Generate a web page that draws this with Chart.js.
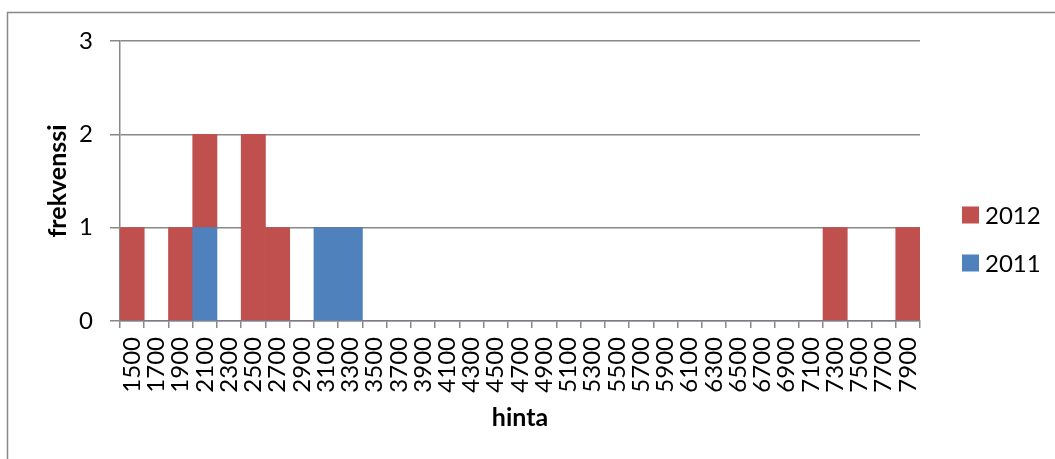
<!DOCTYPE html>
<html>
<head>
<meta charset="utf-8">
<script src="https://cdn.jsdelivr.net/npm/chart.js@4.4.1/dist/chart.umd.min.js"></script>
<style>
  html, body { margin: 0; padding: 0; background: #ffffff; }
  #wrap { position: relative; width: 1055px; height: 459px; }
</style>
</head>
<body>
<div id="wrap"><canvas id="chart" width="1055" height="459"></canvas></div>
<script>
// price classes (hinta) on the x axis
const categories = [
  '1500', '1700', '1900', '2100', '2300', '2500', '2700', '2900', '3100', '3300', '3500',
  '3700', '3900', '4100', '4300', '4500', '4700', '4900', '5100', '5300', '5500', '5700',
  '5900', '6100', '6300', '6500', '6700', '6900', '7100', '7300', '7500', '7700', '7900'
];

// frequencies per price class
const values2011 = [
  0, 0, 0, 1, 0, 0, 0, 0, 1, 1, 0,
  0, 0, 0, 0, 0, 0, 0, 0, 0, 0, 0,
  0, 0, 0, 0, 0, 0, 0, 0, 0, 0, 0
];
const values2012 = [
  1, 0, 1, 1, 0, 2, 1, 0, 0, 0, 0,
  0, 0, 0, 0, 0, 0, 0, 0, 0, 0, 0,
  0, 0, 0, 0, 0, 0, 0, 1, 0, 0, 1
];

const yTicks = [0, 1, 2, 3];
const seriesNames = ['2011', '2012'];
const seriesColors = ['#4F81BD', '#C0504D'];

const FONT = 'Lato, "Open Sans", "Liberation Sans", sans-serif';
const AXIS_GRAY = '#888888';

// outer frame line along the left and top edge
const framePlugin = {
  id: 'frame',
  beforeDraw(chart) {
    const ctx = chart.ctx;
    ctx.save();
    ctx.strokeStyle = AXIS_GRAY;
    ctx.lineWidth = 1.5;
    ctx.beginPath();
    ctx.moveTo(7.5, chart.height);
    ctx.lineTo(7.5, 12.5);
    ctx.lineTo(chart.width, 12.5);
    ctx.stroke();
    ctx.restore();
  }
};

// legend on the right, listed top-down in reverse stacking order
const sideLegendPlugin = {
  id: 'sideLegend',
  afterDraw(chart, args, opts) {
    const ctx = chart.ctx;
    const sets = chart.data.datasets.slice().reverse();
    ctx.save();
    ctx.font = opts.font;
    ctx.textBaseline = 'middle';
    ctx.textAlign = 'left';
    sets.forEach((ds, i) => {
      const cy = opts.top + i * opts.spacing;
      ctx.fillStyle = ds.backgroundColor;
      ctx.fillRect(opts.left, cy - opts.box / 2, opts.box, opts.box);
      ctx.fillStyle = '#000000';
      ctx.fillText(ds.label, opts.left + opts.box + 6, cy + 1);
    });
    ctx.restore();
  }
};

new Chart(document.getElementById('chart'), {
  type: 'bar',
  data: {
    labels: categories,
    datasets: [
      { label: seriesNames[0], data: values2011, backgroundColor: seriesColors[0] },
      { label: seriesNames[1], data: values2012, backgroundColor: seriesColors[1] }
    ]
  },
  options: {
    responsive: false,
    animation: false,
    events: [],
    datasets: {
      bar: { categoryPercentage: 1.0, barPercentage: 1.0, borderWidth: 0 }
    },
    layout: { padding: { left: 0, top: 41, right: 135, bottom: 0 } },
    plugins: {
      legend: { display: false },
      tooltip: { enabled: false },
      sideLegend: {
        left: 962,
        top: 215,
        spacing: 48,
        box: 17,
        font: '24px ' + FONT
      }
    },
    scales: {
      x: {
        stacked: true,
        offset: true,
        afterFit(scale) { scale.height = 138; },
        border: { display: true, color: AXIS_GRAY, width: 1.5 },
        grid: {
          offset: true,
          drawOnChartArea: false,
          drawTicks: true,
          tickLength: 7,
          color: AXIS_GRAY,
          lineWidth: 1.5
        },
        ticks: {
          autoSkip: false,
          minRotation: 90,
          maxRotation: 90,
          padding: 9,
          color: '#000000',
          font: { family: FONT, size: 24, lineHeight: 1.2 }
        },
        title: {
          display: true,
          text: 'hinta',
          color: '#000000',
          padding: { top: 0, bottom: 26 },
          font: { family: FONT, size: 25, weight: 'bold', lineHeight: 1.2 }
        }
      },
      y: {
        stacked: true,
        min: yTicks[0],
        max: yTicks[yTicks.length - 1],
        afterFit(scale) { scale.width = 120; },
        afterBuildTicks(scale) { scale.ticks = yTicks.map(v => ({ value: v })); },
        border: { display: true, color: AXIS_GRAY, width: 1.5 },
        grid: {
          color: AXIS_GRAY,
          lineWidth: 1.5,
          drawTicks: true,
          tickLength: 10
        },
        ticks: {
          padding: 17,
          color: '#000000',
          font: { family: FONT, size: 24, lineHeight: 1.2 }
        },
        title: {
          display: true,
          text: 'frekvenssi',
          color: '#000000',
          padding: { top: 43, bottom: 0 },
          font: { family: FONT, size: 25, weight: 'bold', lineHeight: 1.2 }
        }
      }
    }
  },
  plugins: [framePlugin, sideLegendPlugin]
});
</script>
</body>
</html>
